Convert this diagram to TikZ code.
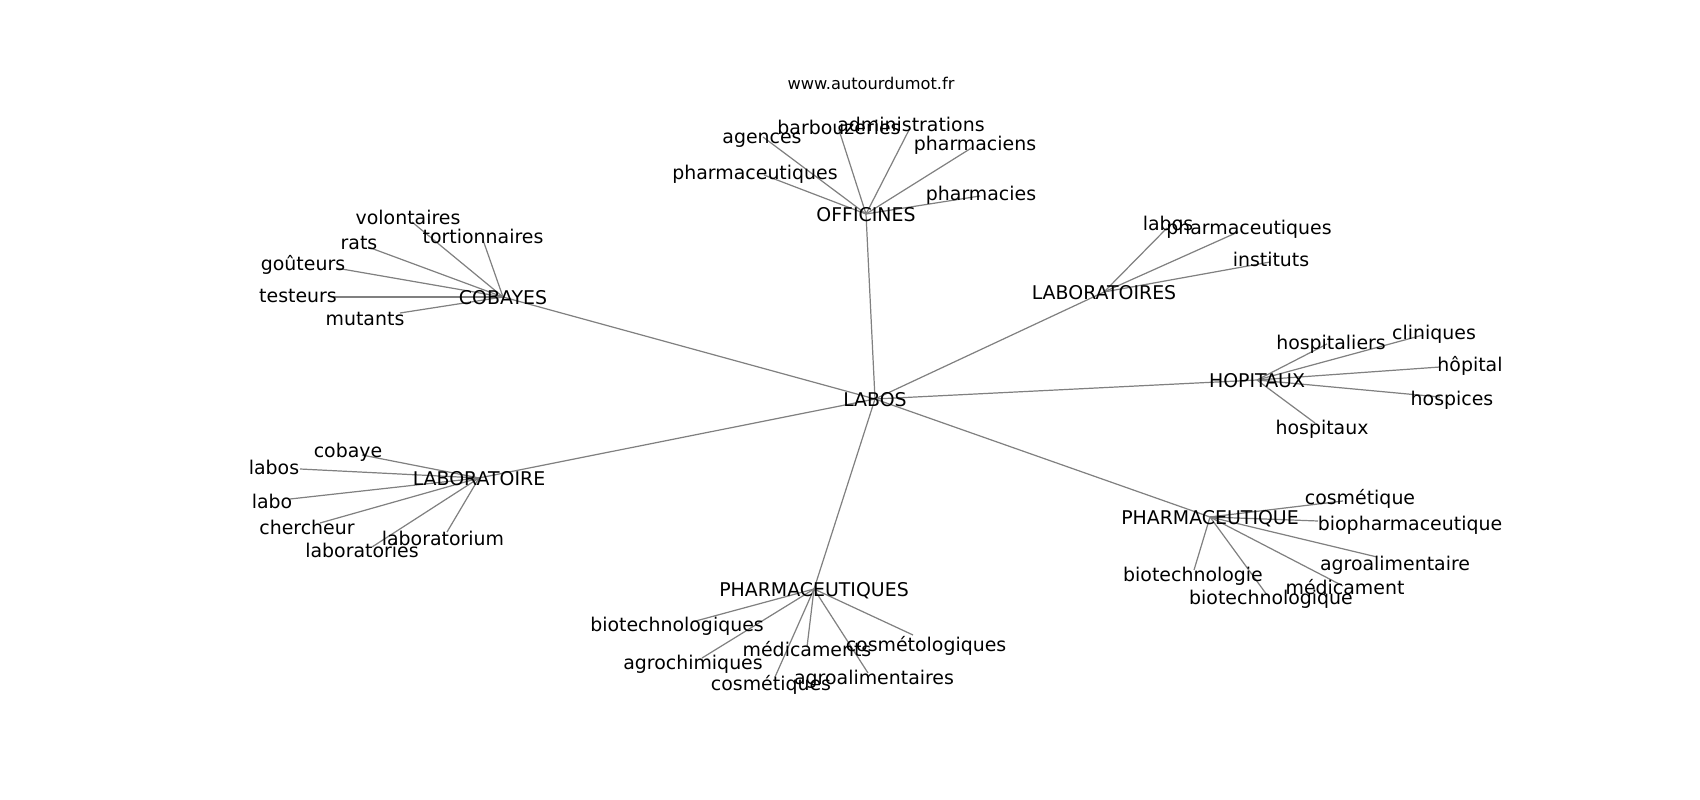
\documentclass[tikz,border=0pt]{standalone}
\usepackage{fontspec}
\setmainfont{DejaVu Sans}
\usetikzlibrary{backgrounds}

\tikzset{
 mot/.style={inner sep=0pt,text height=1.1em,text depth=0pt,font=\fontsize{14}{16}\selectfont},
 lien/.style={draw=gray,line width=0.9pt}
}

\begin{document}
\begin{tikzpicture}[x=0.74pt,y=-0.74pt]

\useasboundingbox (0,0) rectangle (1700,800);

\node[font=\fontsize{12}{14}\selectfont,inner sep=0pt] (site) at (871,83) {www.autourdumot.fr};

% the word in the middle and its seven neighbours
\node[mot] (labos) at (875,399) {LABOS};
\node[mot] (officines) at (866,214) {OFFICINES};
\node[mot] (cobayes) at (503,297) {COBAYES};
\node[mot] (laboratoire) at (479,478) {LABORATOIRE};
\node[mot] (pharmas) at (814,589) {PHARMACEUTIQUES};
\node[mot] (pharma) at (1210,517) {PHARMACEUTIQUE};
\node[mot] (laboratoires) at (1104,292) {LABORATOIRES};
\node[mot] (hopitaux) at (1257,380) {HOPITAUX};

\begin{pgfonlayer}{background}
\foreach \hub in {officines,cobayes,laboratoire,pharmas,pharma,laboratoires,hopitaux}
    \draw[lien] (labos.center) -- (\hub.center);
\end{pgfonlayer}

% leaves: name / end of the line / place of the word / word
\foreach \hub/\leaves in {%
 officines/{agences/763/137/762/136/agences,
  barbouzeries/839/130/839/127/barbouzeries,
  administrations/910/128/911/124/administrations,
  pharmaciens/973/147/975/143/pharmaciens,
  pharmaceutiques-o/764/175/755/172/pharmaceutiques,
  pharmacies/980/196/981/193/pharmacies},
 cobayes/{volontaires/412/222/408/217/volontaires,
  rats/368/247/359/242/rats,
  tortionnaires/483/240/483/236/tortionnaires,
  gouteurs/336/268/303/263/goûteurs,
  testeurs/333/297/298/295/testeurs,
  mutants/400/313/365/318/mutants},
 laboratoire/{cobaye/362/455/348/450/cobaye,
  labos-l/300/469/274/467/labos,
  labo/290/499/272/501/labo,
  chercheur/320/523/307/527/chercheur,
  laboratories/372/547/362/550/laboratories,
  laboratorium/447/532/443/538/laboratorium},
 pharmas/{biotechnologiques/692/622/677/624/biotechnologiques,
  agrochimiques/702/658/693/662/agrochimiques,
  medicaments/807/647/807/649/médicaments,
  cosmetologiques/913/635/926/644/cosmétologiques,
  cosmetiques/775/677/771/683/cosmétiques,
  agroalimentaires/868/673/874/677/agroalimentaires},
 pharma/{cosmetique/1343/501/1360/497/cosmétique,
  biopharmaceutique/1318/521/1410/523/biopharmaceutique,
  agroalimentaire/1377/557/1395/563/agroalimentaire,
  medicament/1343/586/1345/587/médicament,
  biotechnologie/1194/570/1193/574/biotechnologie,
  biotechnologique/1267/595/1271/597/biotechnologique},
 laboratoires/{labos-r/1167/228/1168/223/labos,
  pharmaceutiques-r/1238/232/1249/227/pharmaceutiques,
  instituts/1270/262/1271/259/instituts},
 hopitaux/{hospitaliers/1327/344/1331/342/hospitaliers,
  cliniques/1423/335/1434/332/cliniques,
  hopital/1440/367/1470/364/hôpital,
  hospices/1440/397/1452/398/hospices,
  hospitaux/1315/423/1322/427/hospitaux}}{%
    \foreach \nom/\ex/\ey/\lx/\ly/\txt in \leaves {%
        \coordinate (\nom) at (\ex,\ey);
        \node[mot] (\nom-mot) at (\lx,\ly) {\txt};
        \begin{pgfonlayer}{background}
        \draw[lien] (\hub.center) -- (\nom);
        \end{pgfonlayer}}}

\end{tikzpicture}
\end{document}
